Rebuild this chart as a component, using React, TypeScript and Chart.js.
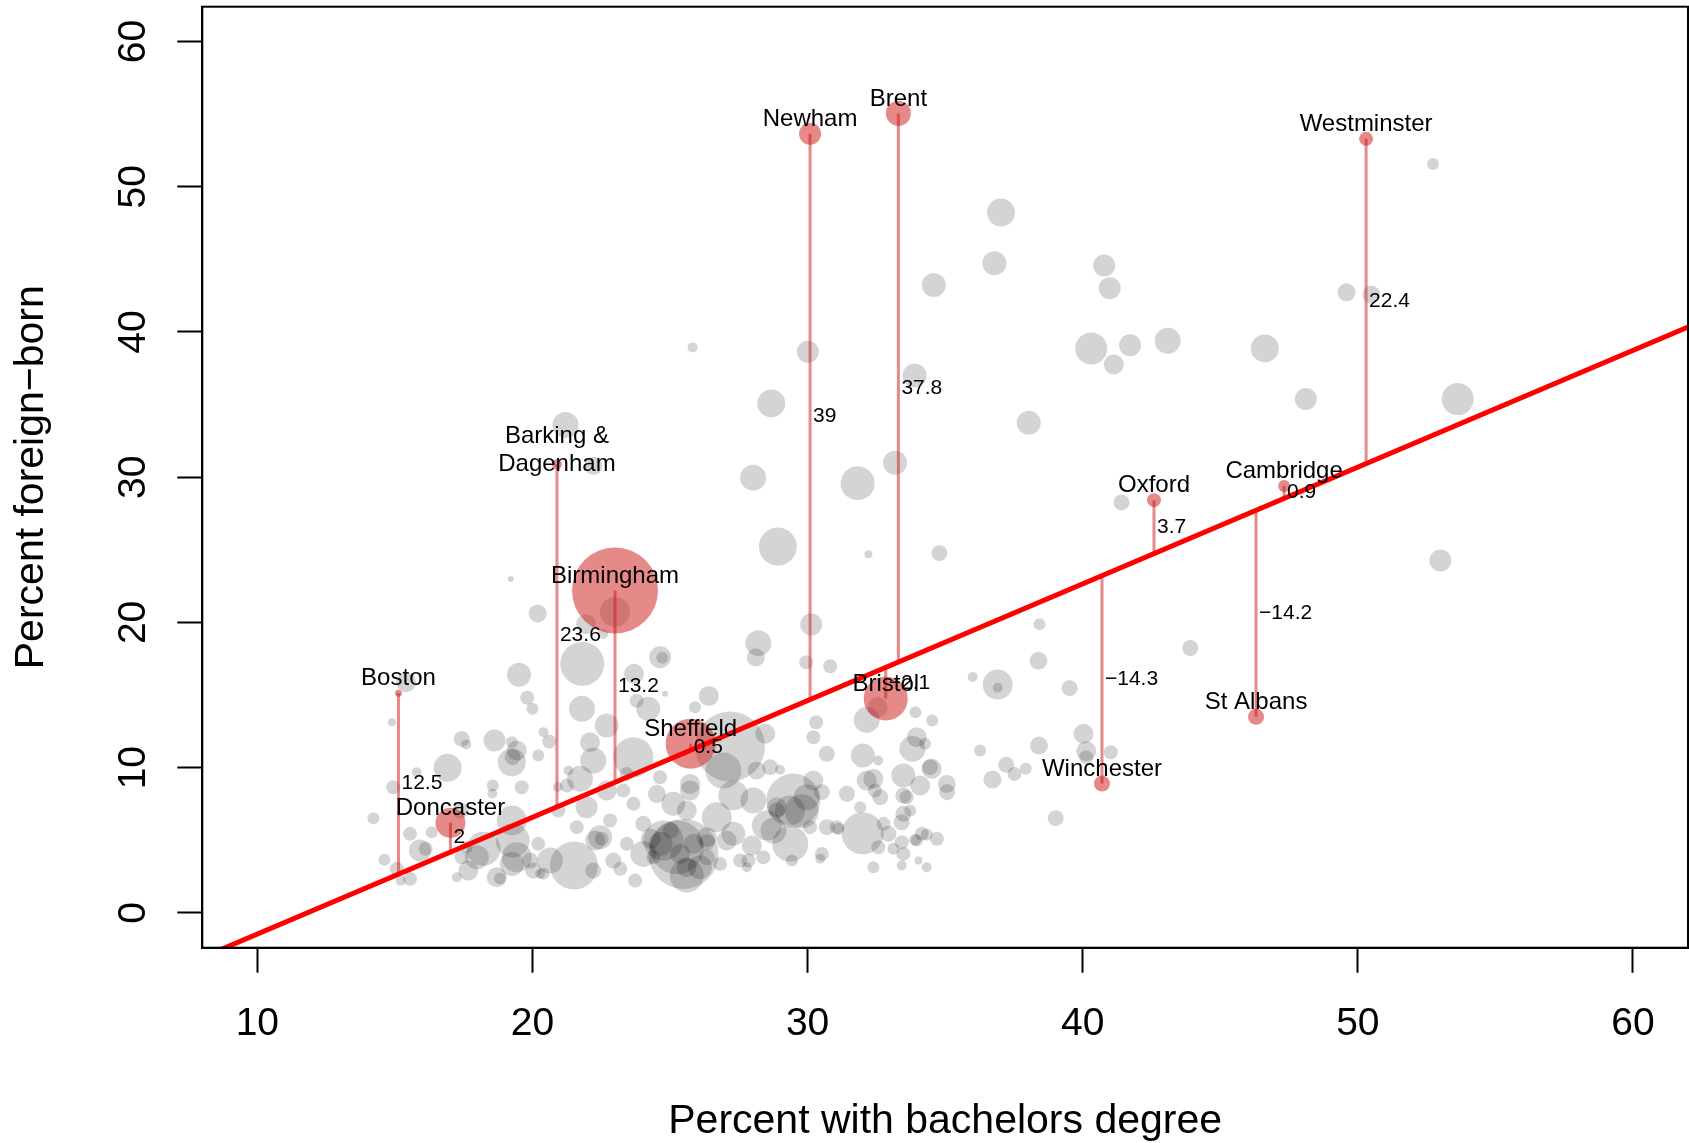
import React, { useEffect, useRef } from "react";
import { Chart, registerables } from "chart.js";

Chart.register(...registerables);

// ---- axes ----
const xTicks = [10, 20, 30, 40, 50, 60];
const yTicks = [0, 10, 20, 30, 40, 50, 60];
const xRange = [8, 62];
const yRange = [-2.4, 62.4];
const xTitle = "Percent with bachelors degree";
const yTitle = "Percent foreign\u2212born";

// ---- regression line ----
const regIntercept = -9.5;
const regSlope = 0.804;

// ---- highlighted places ----
const cityNames = [
  "Boston", "Doncaster", "Barking &\nDagenham", "Birmingham", "Sheffield", "Newham", "Brent",
  "Bristol", "Westminster", "Oxford", "Cambridge", "St Albans", "Winchester",
];
const cityX = [15.13, 17.02, 20.89, 23.0, 25.75, 30.09, 33.3, 32.84, 50.3, 42.59, 47.32, 46.3, 40.7];
const cityY = [15.13, 6.2, 30.9, 22.2, 11.65, 53.65, 55.05, 14.76, 53.3, 28.42, 29.4, 13.5, 8.9];
const cityR = [3.5, 15, 5, 43, 25, 11, 12.5, 22, 7, 7, 6, 8, 8];
const cityResidual = [12.5, 2, 23.6, 13.2, 0.5, 39, 37.8, -2.1, 22.4, 3.7, 0.9, -14.2, -14.3];

// ---- all other places (grey bubbles) ----
const greyX = [
  37.03, 36.79, 40.78, 40.98, 34.59, 41.72, 40.31, 41.13, 43.09, 46.62, 49.59, 50.49, 52.73, 53.63, 48.11,
  38.04, 30.01, 28.68, 33.89, 25.82, 21.2, 22.22, 28.02, 31.82, 33.18, 28.92, 32.21, 34.79, 53.0, 41.41,
  38.43, 43.91, 38.39, 36.91, 36.91, 39.52, 36.0, 40.03, 40.13, 40.13, 41.02, 38.41, 37.22, 37.52, 37.93,
  36.72, 39.02, 36.27, 19.21, 20.19, 15.41, 14.89, 19.51, 19.81, 20.0, 20.4, 17.43, 17.59, 18.62, 19.25,
  19.25, 19.28, 19.43, 20.21, 16.92, 14.94, 18.56, 19.61, 18.54, 14.22, 17.39, 19.25, 19.28, 18.22, 17.98,
  15.55, 16.34, 15.91, 16.12, 17.43, 17.67, 17.61, 14.62, 15.07, 15.55, 15.21, 19.25, 18.7, 18.82, 19.91,
  20.21, 20.4, 17.25, 23.0, 21.81, 21.8, 20.61, 22.7, 24.64, 24.72, 23.69, 24.21, 24.82, 26.41, 25.91,
  30.13, 28.21, 28.12, 29.95, 30.82, 30.31, 32.55, 32.15, 33.92, 34.53, 33.97, 33.81, 34.51, 32.01, 32.15,
  27.18, 23.67, 25.49, 21.51, 24.76, 24.03, 25.37, 26.7, 27.3, 28.03, 28.52, 29.37, 29.48, 29.79, 30.7,
  30.21, 31.43, 32.0, 32.39, 33.48, 33.48, 32.76, 35.07, 34.7, 34.33, 34.15, 32.57, 32.45, 33.6, 34.27,
  19.43, 20.64, 22.09, 22.21, 22.7, 21.97, 21.61, 22.46, 22.94, 23.43, 23.73, 22.82, 23.3, 20.92, 20.94,
  20.28, 24.64, 24.52, 25.12, 25.73, 26.34, 26.09, 25.61, 24.4, 24.03, 23.67, 23.43, 26.82, 27.55, 27.79,
  28.88, 30.09, 30.46, 28.15, 28.46, 28.64, 30.7, 30.21, 35.06, 30.52, 31.06, 32.57, 33.97, 33.42, 34.03,
  21.95, 22.57, 23.79,
  22.28, 22.52, 23.19, 24.3, 24.66, 25.03, 25.25, 25.61, 25.85, 26.34, 26.34, 25.61, 27.06, 27.3, 27.97,
  28.39, 27.85, 29.43, 28.88, 30.52, 26.94, 29.0, 25.73, 32.39, 33.48, 34.09, 33.48, 32.64, 31.91, 33.42,
  33.73, 32.94, 33.42, 33.91, 34.33, 33.12, 34.45, 31.12, 28.76, 29.36, 29.97, 15.79, 21.31,
  21.73, 22.21, 20.03, 21.25,
];
const greyY = [
  48.22, 44.73, 44.58, 43.02, 43.24, 39.09, 38.87, 37.76, 39.39, 38.87, 42.73, 42.58, 51.56, 35.38, 35.38,
  33.75, 38.64, 35.08, 37.01, 38.94, 33.6, 30.78, 29.97, 29.59, 31.0, 25.22, 24.7, 24.77, 24.26, 28.26,
  19.88, 18.24, 17.36, 15.72, 15.5, 15.47, 16.24, 12.33, 11.13, 10.72, 11.06, 11.52, 10.19, 9.57, 9.92,
  9.18, 6.52, 11.18, 22.99, 20.62, 15.88, 13.13, 16.39, 14.81, 14.05, 12.44, 11.98, 11.6, 11.87, 11.75,
  10.37, 10.72, 11.18, 10.83, 9.99, 8.65, 8.77, 8.65, 8.22, 6.52, 7.05, 6.36, 4.98, 4.41, 3.83,
  5.44, 5.55, 4.29, 4.41, 3.83, 2.91, 4.52, 3.65, 3.03, 2.34, 2.22, 3.37, 2.45, 2.36, 3.6,
  4.75, 2.69, 2.45, 20.72, 17.15, 14.05, 11.8, 12.9, 17.6, 17.56, 16.46, 14.05, 15.08, 14.94, 14.16,
  19.86, 18.57, 17.6, 17.26, 16.98, 13.13, 14.16, 13.29, 13.82, 13.24, 12.09, 11.29, 9.92, 10.83, 9.11,
  11.45, 10.72, 4.06, 3.26, 4.98, 4.06, 4.06, 6.58, 5.44, 7.73, 6.01, 4.75, 7.73, 7.0, 5.9,
  9.11, 8.2, 5.48, 3.14, 4.06, 6.82, 6.13, 8.31, 5.1, 3.14, 5.44, 10.49, 8.42, 7.96, 11.64,
  3.83, 3.6, 11.75, 10.49, 8.42, 7.27, 5.9, 5.21, 3.6, 4.75, 2.22, 6.36, 8.42, 8.67, 7.05,
  2.69, 9.34, 8.2, 7.51, 8.42, 5.21, 3.14, 3.14, 3.83, 6.13, 7.51, 9.57, 3.37, 3.6, 3.14,
  7.05, 5.9, 3.72, 9.8, 12.33, 10.03, 10.95, 12.09, 8.88, 4.06, 5.9, 4.52, 4.98, 3.26, 3.6,
  19.88, 19.21, 14.61,
  4.98, 5.1, 3.03, 5.1, 4.75, 5.67, 4.52, 2.57, 4.75, 4.86, 3.83, 7.05, 4.98, 8.08, 4.63,
  3.83, 3.6, 3.6, 7.27, 8.31, 9.8, 9.85, 8.88, 9.23, 9.46, 8.77, 8.08, 7.96, 7.27, 6.24,
  7.05, 5.44, 4.86, 5.03, 5.39, 4.41, 10.03, 5.79, 5.67, 7.05, 7.96, 9.68, 9.8,
  9.23, 2.91, 2.91, 8.77,
];
const greyR = [
  14, 12, 11, 11, 12, 11, 16, 10, 13, 14, 9, 9, 6, 16, 11,
  12, 11, 14, 12, 5, 13, 9, 13, 17, 12, 19, 4, 8, 11, 8,
  6, 8, 9, 15, 5, 8, 5, 10, 10, 7, 7, 9, 8, 7, 6,
  9, 8, 6, 3, 9, 10, 4, 12, 7, 6, 5, 8, 5, 11, 6,
  14, 8, 10, 6, 14, 7, 6, 7, 5, 6, 8, 15, 17, 17, 12,
  7, 6, 11, 7, 7, 10, 6, 6, 7, 7, 5, 12, 10, 6, 8,
  7, 6, 5, 15, 22, 13, 7, 12, 11, 6, 10, 12, 3, 10, 6,
  11, 13, 9, 7, 7, 7, 10, 13, 6, 6, 10, 13, 10, 12, 10,
  35, 20, 35, 24, 20, 13, 10, 15, 12, 13, 15, 18, 27, 17, 8,
  10, 8, 21, 6, 7, 8, 7, 8, 7, 5, 7, 5, 7, 7, 6,
  15, 13, 10, 13, 10, 11, 7, 12, 8, 7, 7, 7, 7, 5, 7,
  5, 7, 9, 12, 10, 10, 12, 10, 7, 8, 7, 7, 7, 7, 5,
  8, 7, 5, 9, 10, 8, 8, 7, 9, 7, 7, 7, 6, 5, 4,
  10, 5, 7,
  10, 7, 7, 10, 12, 8, 27, 17, 10, 8, 8, 10, 10, 15, 10,
  7, 7, 6, 10, 8, 18, 5, 10, 10, 12, 10, 8, 8, 6, 8,
  6, 8, 7, 6, 6, 6, 8, 6, 13, 15, 13, 5, 5,
  13, 8, 8, 7,
];

const FONT = '"Liberation Sans", Arial, Helvetica, sans-serif';

const fitted = (x: number) => regIntercept + regSlope * x;
const fmtResidual = (v: number) => (v < 0 ? "\u2212" : "") + String(Math.abs(v));

const annotationPlugin = {
  id: "annotations",
  afterDatasetsDraw(chart: any) {
    const { ctx, chartArea: a, scales } = chart;
    const xs = scales.x;
    const ys = scales.y;
    ctx.save();
    // plot box
    ctx.strokeStyle = "#000";
    ctx.lineWidth = 2;
    ctx.strokeRect(a.left, a.top, a.right - a.left, a.bottom - a.top);

    ctx.fillStyle = "#000";
    // place names
    ctx.font = `24px ${FONT}`;
    ctx.textAlign = "center";
    ctx.textBaseline = "middle";
    cityNames.forEach((name, i) => {
      const px = xs.getPixelForValue(cityX[i]);
      const py = ys.getPixelForValue(cityY[i]);
      const lines = name.split("\n");
      if (lines.length === 1) {
        ctx.fillText(name, px, py - 14.5);
      } else {
        lines.forEach((ln, k) => ctx.fillText(ln, px, py - (lines.length - 1 - k) * 28));
      }
    });
    // residual values
    ctx.font = `21px ${FONT}`;
    ctx.textAlign = "left";
    cityNames.forEach((_, i) => {
      const px = xs.getPixelForValue(cityX[i]);
      const mid = (cityY[i] + fitted(cityX[i])) / 2;
      const py = ys.getPixelForValue(mid);
      ctx.fillText(fmtResidual(cityResidual[i]), px + 3, py);
    });
    // axis titles
    ctx.font = `41px ${FONT}`;
    ctx.textAlign = "center";
    ctx.textBaseline = "alphabetic";
    ctx.fillText(xTitle, (a.left + a.right) / 2, a.bottom + 185);
    ctx.translate(43, (a.top + a.bottom) / 2);
    ctx.rotate(-Math.PI / 2);
    ctx.fillText(yTitle, 0, 0);
    ctx.restore();
  },
};

const zeroPadding = (s: any) => {
  s.paddingTop = 0;
  s.paddingBottom = 0;
  s.paddingLeft = 0;
  s.paddingRight = 0;
};

export default function App() {
  const ref = useRef<HTMLCanvasElement>(null);

  useEffect(() => {
    const canvas = ref.current;
    if (!canvas) return;

    const segmentSets = cityNames.map((_, i) => ({
      type: "line" as const,
      data: [
        { x: cityX[i], y: cityY[i] },
        { x: cityX[i], y: fitted(cityX[i]) },
      ],
      borderColor: "rgba(205,20,20,0.5)",
      borderWidth: 3,
      pointRadius: 0,
      fill: false,
      clip: 0,
      order: 1,
    }));

    const chart = new Chart(canvas, {
      type: "bubble",
      data: {
        datasets: [
          {
            type: "line",
            data: xRange.map((x) => ({ x, y: fitted(x) })),
            borderColor: "#ff0000",
            borderWidth: 5,
            pointRadius: 0,
            fill: false,
            clip: 0,
            order: 0,
          } as any,
          ...(segmentSets as any[]),
          {
            type: "bubble",
            data: cityNames.map((_, i) => ({ x: cityX[i], y: cityY[i], r: cityR[i] })),
            backgroundColor: "rgba(205,20,20,0.5)",
            borderWidth: 0,
            order: 2,
          },
          {
            type: "bubble",
            data: greyX.map((x, i) => ({ x, y: greyY[i], r: greyR[i] })),
            backgroundColor: "rgba(0,0,0,0.17)",
            borderWidth: 0,
            order: 3,
          },
        ],
      },
      options: {
        responsive: false,
        animation: false,
        events: [],
        layout: { autoPadding: false, padding: { top: 6.7, right: 1, left: 0, bottom: 0 } },
        plugins: { legend: { display: false }, tooltip: { enabled: false } },
        scales: {
          x: {
            type: "linear",
            min: xRange[0],
            max: xRange[1],
            afterBuildTicks: (s: any) => {
              s.ticks = xTicks.map((v) => ({ value: v }));
            },
            afterFit: (s: any) => {
              s.height = 195.3;
              zeroPadding(s);
            },
            ticks: {
              font: { family: FONT, size: 39 },
              color: "#000",
              padding: 28,
              maxRotation: 0,
              minRotation: 0,
              autoSkip: false,
            },
            grid: {
              drawOnChartArea: false,
              drawTicks: true,
              tickLength: 25,
              tickWidth: 2,
              tickColor: "#000",
            },
            border: { display: true, color: "#000", width: 2 },
          },
          y: {
            type: "linear",
            min: yRange[0],
            max: yRange[1],
            afterBuildTicks: (s: any) => {
              s.ticks = yTicks.map((v) => ({ value: v }));
            },
            afterFit: (s: any) => {
              s.width = 202.3;
              zeroPadding(s);
            },
            ticks: {
              font: { family: FONT, size: 39 },
              color: "#000",
              padding: 21,
              minRotation: 90,
              maxRotation: 90,
              crossAlign: "center",
              autoSkip: false,
            },
            grid: {
              drawOnChartArea: false,
              drawTicks: true,
              tickLength: 25,
              tickWidth: 2,
              tickColor: "#000",
            },
            border: { display: true, color: "#000", width: 2 },
          },
        },
      } as any,
      plugins: [annotationPlugin],
    });

    return () => chart.destroy();
  }, []);

  return (
    <div style={{ position: "absolute", left: 0, top: 0, width: 1689, height: 1143, background: "#fff" }}>
      <canvas ref={ref} width={1689} height={1143} style={{ display: "block", width: 1689, height: 1143 }} />
    </div>
  );
}
